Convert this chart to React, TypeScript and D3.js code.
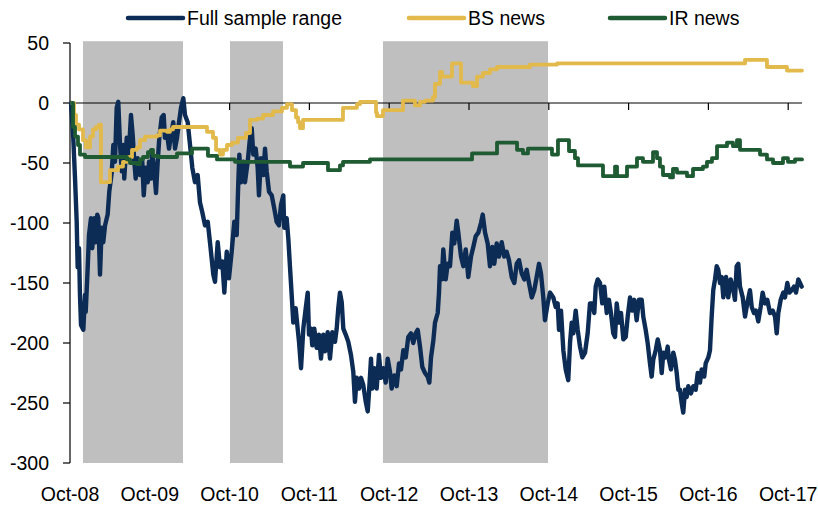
import React from "react";
import * as d3 from "d3";

// time = years since Oct-2008
const xTickLabels = ["Oct-08", "Oct-09", "Oct-10", "Oct-11", "Oct-12", "Oct-13", "Oct-14", "Oct-15", "Oct-16", "Oct-17"];
const yTicks = [50, 0, -50, -100, -150, -200, -250, -300];
const shadedPeriods: [number, number][] = [[0.163, 1.416], [2.005, 2.669], [3.922, 5.99]];
const seriesNames = ["Full sample range", "BS news", "IR news"];
const seriesColors = ["#0c2c56", "#e2b94b", "#1e5a32"];

const fullSample: [number, number][] = [
  [0.013, 0], [0.041, -29], [0.063, -63], [0.084, -99], [0.096, -137], [0.113, -121], [0.125, -160], [0.138, -185],
  [0.167, -189], [0.188, -160], [0.197, -174], [0.222, -137], [0.238, -110], [0.263, -96], [0.279, -121], [0.305, -96],
  [0.322, -116], [0.342, -93], [0.355, -96], [0.376, -143], [0.397, -104], [0.417, -116], [0.439, -102], [0.472, -93],
  [0.492, -74], [0.523, -58], [0.543, -35], [0.564, -49], [0.585, -4], [0.605, 1], [0.627, -35], [0.648, -57],
  [0.668, -35], [0.68, -63], [0.711, -29], [0.731, -49], [0.764, -10], [0.786, -27], [0.806, -49], [0.823, -63],
  [0.848, -46], [0.877, -60], [0.906, -49], [0.924, -77], [0.949, -54], [0.974, -66], [0.99, -49], [1.015, -63],
  [1.031, -43], [1.056, -57], [1.078, -75], [1.099, -49], [1.119, -29], [1.149, -12], [1.174, -10], [1.19, -29],
  [1.212, -24], [1.241, -38], [1.266, -27], [1.294, -16], [1.316, -38], [1.341, -29], [1.366, -16], [1.391, -4],
  [1.42, 4], [1.441, -10], [1.475, -16], [1.504, -35], [1.533, -54], [1.566, -66], [1.6, -60], [1.629, -83],
  [1.658, -91], [1.692, -102], [1.726, -99], [1.754, -116], [1.796, -143], [1.817, -149], [1.851, -116], [1.88, -137],
  [1.908, -132], [1.934, -158], [1.964, -124], [1.992, -146], [2.026, -124], [2.059, -99], [2.089, -110], [2.109, -66],
  [2.122, -43], [2.143, -66], [2.172, -49], [2.193, -66], [2.227, -49], [2.256, -29], [2.277, -21], [2.297, -43],
  [2.327, -38], [2.352, -54], [2.368, -77], [2.393, -46], [2.422, -60], [2.444, -38], [2.465, -57], [2.494, -74],
  [2.528, -77], [2.56, -88], [2.59, -99], [2.619, -102], [2.644, -85], [2.673, -77], [2.685, -104], [2.715, -96],
  [2.736, -113], [2.757, -137], [2.778, -160], [2.798, -183], [2.828, -171], [2.853, -188], [2.87, -199], [2.895, -221],
  [2.924, -188], [2.954, -171], [2.979, -158], [2.995, -193], [3.02, -188], [3.036, -202], [3.061, -188], [3.091, -204],
  [3.12, -193], [3.145, -213], [3.174, -193], [3.195, -207], [3.229, -191], [3.258, -213], [3.287, -191], [3.321, -199],
  [3.342, -188], [3.362, -171], [3.383, -158], [3.405, -166], [3.425, -188], [3.455, -193], [3.487, -199], [3.521, -210],
  [3.55, -224], [3.571, -249], [3.593, -229], [3.622, -238], [3.647, -229], [3.675, -235], [3.706, -249], [3.731, -257],
  [3.747, -241], [3.772, -213], [3.788, -238], [3.813, -221], [3.843, -238], [3.872, -210], [3.897, -229], [3.926, -221],
  [3.956, -233], [3.981, -213], [4.01, -224], [4.031, -238], [4.064, -227], [4.094, -236], [4.123, -217], [4.148, -222],
  [4.177, -206], [4.207, -212], [4.239, -195], [4.273, -192], [4.302, -200], [4.332, -192], [4.357, -189], [4.386, -203],
  [4.415, -220], [4.449, -225], [4.482, -228], [4.503, -233], [4.524, -212], [4.553, -198], [4.574, -183], [4.608, -175],
  [4.624, -158], [4.637, -136], [4.658, -147], [4.678, -122], [4.708, -147], [4.733, -134], [4.762, -136], [4.791, -108],
  [4.816, -117], [4.846, -98], [4.866, -108], [4.9, -128], [4.929, -136], [4.959, -122], [4.991, -145], [5.025, -128],
  [5.054, -120], [5.084, -111], [5.117, -108], [5.15, -100], [5.172, -93], [5.201, -108], [5.234, -117], [5.263, -136],
  [5.292, -120], [5.317, -134], [5.347, -117], [5.376, -128], [5.41, -116], [5.442, -128], [5.472, -124], [5.501, -131],
  [5.535, -145], [5.568, -150], [5.598, -134], [5.627, -131], [5.66, -142], [5.693, -147], [5.723, -139], [5.752, -150],
  [5.786, -162], [5.818, -156], [5.848, -145], [5.877, -134], [5.902, -142], [5.931, -162], [5.952, -181], [5.986, -167],
  [6.015, -158], [6.056, -162], [6.086, -170], [6.111, -167], [6.128, -189], [6.153, -173], [6.182, -206], [6.212, -222],
  [6.244, -231], [6.266, -200], [6.287, -183], [6.307, -192], [6.337, -173], [6.362, -189], [6.391, -203], [6.42, -212],
  [6.454, -208], [6.487, -192], [6.516, -167], [6.545, -167], [6.57, -175], [6.588, -153], [6.613, -147], [6.642, -150],
  [6.67, -167], [6.696, -153], [6.726, -175], [6.754, -164], [6.779, -175], [6.808, -192], [6.83, -195], [6.851, -167],
  [6.88, -183], [6.905, -175], [6.934, -197], [6.964, -195], [6.989, -178], [7.018, -162], [7.046, -173], [7.071, -164],
  [7.101, -181], [7.13, -164], [7.164, -164], [7.184, -178], [7.214, -189], [7.239, -200], [7.268, -217], [7.289, -228],
  [7.309, -214], [7.34, -206], [7.365, -197], [7.393, -206], [7.415, -225], [7.435, -208], [7.465, -212], [7.49, -203],
  [7.506, -214], [7.531, -222], [7.56, -208], [7.581, -214], [7.603, -225], [7.623, -239], [7.644, -239], [7.665, -250],
  [7.685, -258], [7.707, -239], [7.728, -245], [7.748, -236], [7.782, -242], [7.811, -236], [7.841, -239], [7.866, -225],
  [7.895, -233], [7.916, -222], [7.948, -228], [7.966, -217], [7.999, -212], [8.02, -206], [8.041, -178], [8.061, -156],
  [8.083, -147], [8.104, -136], [8.124, -139], [8.145, -150], [8.167, -145], [8.187, -162], [8.221, -145], [8.249, -162],
  [8.279, -147], [8.304, -153], [8.333, -164], [8.354, -136], [8.375, -134], [8.396, -153], [8.43, -162], [8.459, -178],
  [8.487, -167], [8.521, -156], [8.543, -170], [8.571, -175], [8.596, -173], [8.625, -182], [8.655, -170], [8.68, -158],
  [8.709, -167], [8.738, -164], [8.772, -175], [8.806, -173], [8.835, -178], [8.856, -192], [8.876, -175], [8.906, -164],
  [8.939, -158], [8.96, -162], [8.989, -150], [9.014, -158], [9.044, -156], [9.073, -153], [9.098, -158], [9.127, -147],
  [9.148, -150], [9.169, -153],
];

const bsNews: [number, number][] = [
  [0.025, 0], [0.05, -10], [0.075, -18], [0.113, -22], [0.163, -31], [0.2, -37], [0.251, -28], [0.288, -22],
  [0.326, -20], [0.363, -18], [0.388, -66], [0.501, -56], [0.602, -53], [0.664, -49], [0.727, -45], [0.777, -39],
  [0.84, -37], [0.877, -31], [0.94, -28], [1.09, -27], [1.128, -23], [1.216, -24], [1.253, -22], [1.291, -20],
  [1.717, -24], [1.792, -29], [1.83, -39], [1.88, -43], [1.917, -39], [1.967, -35], [2.03, -33], [2.105, -29],
  [2.205, -25], [2.256, -14], [2.343, -13], [2.419, -10], [2.544, -7], [2.656, -4], [2.719, -1], [2.782, -6],
  [2.832, -12], [2.858, -16], [2.882, -21], [2.92, -14], [3.421, -4], [3.596, -1], [3.634, 1], [3.835, -8],
  [3.847, -11], [3.922, -6], [4.173, 2], [4.323, -2], [4.386, 1], [4.449, 2], [4.549, 5], [4.574, 16],
  [4.637, 26], [4.662, 22], [4.787, 33], [4.9, 17], [5.05, 14], [5.1, 22], [5.175, 25], [5.263, 28],
  [5.351, 30], [5.764, 32], [6.103, 33], [8.459, 36], [8.734, 30], [8.985, 27], [9.173, 27],
];

const irNews: [number, number][] = [
  [0.025, 0], [0.038, -20], [0.063, -28], [0.1, -35], [0.125, -43], [0.188, -45], [0.714, -47], [0.752, -50],
  [0.84, -51], [0.877, -47], [0.915, -45], [0.977, -41], [1.015, -39], [1.04, -44], [1.103, -45], [1.341, -42],
  [1.529, -38], [1.729, -44], [1.842, -47], [2.068, -49], [2.757, -53], [2.92, -50], [3.233, -56], [3.383, -52],
  [3.421, -49], [3.759, -47], [5.038, -42], [5.351, -33], [5.602, -39], [5.677, -42], [5.739, -38], [6.04, -43],
  [6.115, -31], [6.253, -40], [6.328, -46], [6.366, -52], [6.679, -61], [6.83, -53], [6.855, -61], [6.98, -53],
  [7.105, -46], [7.18, -49], [7.306, -41], [7.356, -46], [7.393, -53], [7.431, -60], [7.519, -62], [7.556, -55],
  [7.606, -58], [7.732, -61], [7.807, -55], [7.932, -53], [7.982, -49], [8.045, -46], [8.108, -36], [8.233, -33],
  [8.308, -36], [8.358, -31], [8.396, -39], [8.647, -43], [8.734, -47], [8.81, -50], [8.935, -46], [8.997, -49],
  [9.085, -47], [9.173, -47],
];

const W = 818;
const H = 508;
const FONT = "'Liberation Sans', Arial, Helvetica, sans-serif";

export default function App() {
  const x = d3.scaleLinear().domain([0, 9.173]).range([70, 802]);
  const y = d3.scaleLinear().domain([-300, 50]).range([463, 43]);

  const lineSmooth = d3.line<[number, number]>().x((d) => x(d[0])).y((d) => y(d[1]));
  const lineStep = d3
    .line<[number, number]>()
    .x((d) => x(d[0]))
    .y((d) => y(d[1]))
    .curve(d3.curveStepAfter);

  const seriesPaths = [lineSmooth(fullSample), lineStep(bsNews), lineStep(irNews)];
  const widths = [4.4, 3.8, 3.8];
  const legendX = [128, 409, 610];

  return (
    <svg
      width={W}
      height={H}
      style={{ position: "absolute", left: 0, top: 0, background: "#fff" }}
      fontFamily={FONT}
    >
      {shadedPeriods.map((p, i) => (
        <rect
          key={i}
          x={x(p[0])}
          y={y(51.5)}
          width={x(p[1]) - x(p[0])}
          height={y(-300) - y(51.5)}
          fill="#bfbfbf"
        />
      ))}

      {/* y axis */}
      <line x1={70} x2={70} y1={y(50)} y2={y(-300)} stroke="#000" strokeWidth={1.2} />
      {yTicks.map((t) => (
        <g key={t}>
          <line x1={63} x2={70} y1={y(t)} y2={y(t)} stroke="#000" strokeWidth={1.2} />
          <text x={49} y={y(t) + 7} textAnchor="end" fontSize={19.5} fill="#000">
            {t}
          </text>
        </g>
      ))}

      {/* x axis at zero */}
      <line x1={70} x2={802} y1={y(0)} y2={y(0)} stroke="#000" strokeWidth={1.2} />
      {xTickLabels.map((lab, i) => (
        <g key={lab}>
          <line x1={x(i)} x2={x(i)} y1={y(0)} y2={y(0) + 7} stroke="#000" strokeWidth={1.2} />
          <text x={x(i)} y={501} textAnchor="middle" fontSize={19.5} fill="#000">
            {lab}
          </text>
        </g>
      ))}

      {seriesPaths.map((d, i) => (
        <path
          key={i}
          d={d || ""}
          fill="none"
          stroke={seriesColors[i]}
          strokeWidth={widths[i]}
          strokeLinejoin="round"
          strokeLinecap="round"
        />
      ))}

      {/* legend */}
      {seriesNames.map((name, i) => (
        <g key={name}>
          <line
            x1={legendX[i]}
            x2={legendX[i] + 55}
            y1={18}
            y2={18}
            stroke={seriesColors[i]}
            strokeWidth={4.5}
            strokeLinecap="round"
          />
          <text x={legendX[i] + 59} y={25} fontSize={19.5} fill="#000">
            {name}
          </text>
        </g>
      ))}
    </svg>
  );
}
